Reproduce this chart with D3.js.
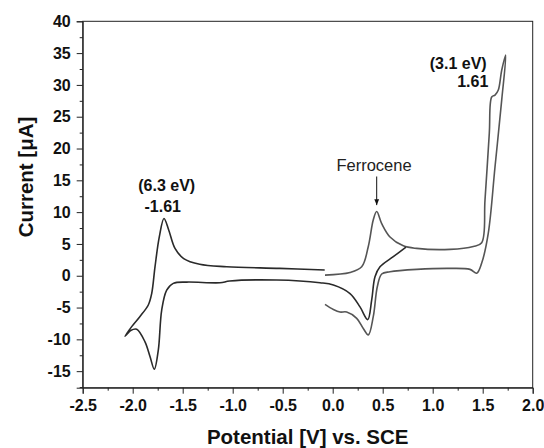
<!doctype html>
<html>
<head>
  <title> CV </title>
  <script src="https://cdn.jsdelivr.net/npm/d3@7"></script>
  <style>
    body { margin: 0; background: #fff; }
    text { font-family: "Liberation Sans", Arial, sans-serif; }
  </style>
</head>
<body>
  <svg width="544" height="448"></svg>
  <script>
  // left scan (dark curve) : [potential V, current uA]
  var darkCurve = [
    [-0.08, 0.9], [-0.53, 1.16], [-1.06, 1.42], [-1.33, 1.8], [-1.49, 2.7],
    [-1.577, 4.3], [-1.64, 7.2], [-1.687, 9.0], [-1.734, 6.1], [-1.777, 1.4],
    [-1.81, -2.8], [-1.844, -4.6], [-1.927, -6.4], [-2.01, -8.0], [-2.077, -9.5],
    [-2.02, -8.6], [-1.96, -8.4], [-1.877, -10.4], [-1.827, -12.7], [-1.784, -14.7],
    [-1.744, -11.7], [-1.71, -5.4], [-1.66, -2.25], [-1.594, -1.2], [-1.46, -1.0],
    [-1.127, -1.1], [-1.03, -0.83], [-0.56, -0.68], [-0.127, -1.1], [0.007, -1.46],
    [0.173, -2.8], [0.273, -4.9], [0.35, -6.9], [0.39, -3.8], [0.423, -0.16],
    [0.473, 1.4], [0.606, 3.0], [0.733, 4.5]
  ];
  // right scan (grey curve)
  var greyCurve = [
    [-0.077, 0.1], [0.173, 0.5], [0.29, 1.4], [0.356, 4.6], [0.406, 8.8],
    [0.44, 10.1], [0.49, 8.2], [0.573, 6.1], [0.706, 4.7], [0.84, 4.3],
    [1.173, 4.15], [1.406, 4.6], [1.49, 5.2], [1.523, 11.9], [1.566, 22.4],
    [1.59, 28.1], [1.623, 28.4], [1.656, 29.2], [1.69, 32.3], [1.73, 34.7],
    [1.69, 27.6], [1.623, 17.1], [1.556, 6.7], [1.49, 2.0], [1.44, 0.4],
    [1.373, 1.0], [1.173, 1.16], [0.84, 1.0], [0.573, 0.63], [0.49, 0.27],
    [0.446, -1.73], [0.406, -6.4], [0.356, -9.3], [0.306, -8.3], [0.24, -6.7],
    [0.14, -5.7], [0.073, -5.7], [0.007, -5.3], [-0.077, -4.5]
  ];
  var xTicks = [-2.5, -2.0, -1.5, -1.0, -0.5, 0.0, 0.5, 1.0, 1.5, 2.0];
  var yTicks = [-15, -10, -5, 0, 5, 10, 15, 20, 25, 30, 35, 40];

  var svg = d3.select("svg"),
      pLeft = 82.7, pRight = 532.7, pTop = 21.3, pBottom = 387.7;

  var x = d3.scaleLinear().domain([-2.5, 2.0]).range([pLeft, pRight]),
      y = d3.scaleLinear().domain([-17.6, 40]).range([pBottom, pTop]);

  var axisColor = "#222";

  // frame
  svg.append("rect")
      .attr("x", pLeft).attr("y", pTop)
      .attr("width", pRight - pLeft).attr("height", pBottom - pTop)
      .attr("fill", "none").attr("stroke", axisColor).attr("stroke-width", 1);

  // minor ticks
  svg.append("g")
      .attr("transform", "translate(0," + pBottom + ")")
      .call(d3.axisBottom(x).tickValues(d3.range(-2.25, 2.0, 0.5)).tickSize(3).tickFormat(""))
      .call(function(g) { g.select(".domain").remove(); });
  svg.append("g")
      .attr("transform", "translate(" + pLeft + ",0)")
      .call(d3.axisLeft(y).tickValues(d3.range(-17.5, 40, 5)).tickSize(3).tickFormat(""))
      .call(function(g) { g.select(".domain").remove(); });

  // major ticks
  var gx = svg.append("g")
      .attr("transform", "translate(0," + pBottom + ")")
      .call(d3.axisBottom(x).tickValues(xTicks).tickSize(6).tickPadding(6).tickFormat(d3.format(".1f")));
  var gy = svg.append("g")
      .attr("transform", "translate(" + pLeft + ",0)")
      .call(d3.axisLeft(y).tickValues(yTicks).tickSize(6).tickPadding(6).tickFormat(d3.format("d")));

  svg.selectAll(".tick line").attr("stroke", axisColor);
  svg.selectAll(".domain").attr("stroke", axisColor);
  svg.selectAll(".tick text")
      .attr("font-family", "Liberation Sans, Arial, sans-serif")
      .attr("font-size", 16).attr("font-weight", "bold").attr("fill", "#111");
  gx.selectAll(".tick text").text(function(d) { return d3.format(".1f")(d).replace("−", "-"); });
  gy.selectAll(".tick text").text(function(d) { return String(d); });

  // axis titles
  svg.append("text")
      .attr("x", (pLeft + pRight) / 2).attr("y", 444)
      .attr("text-anchor", "middle")
      .attr("font-size", 20.5).attr("font-weight", "bold").attr("fill", "#111")
      .text("Potential [V] vs. SCE");
  svg.append("text")
      .attr("transform", "translate(33,177) rotate(-90)")
      .attr("text-anchor", "middle")
      .attr("font-size", 20.5).attr("font-weight", "bold").attr("fill", "#111")
      .text("Current [μA]");

  // curves
  var line = d3.line()
      .x(function(d) { return x(d[0]); })
      .y(function(d) { return y(d[1]); })
      .curve(d3.curveCatmullRom.alpha(0.5));

  svg.append("path").datum(greyCurve)
      .attr("d", line).attr("fill", "none")
      .attr("stroke", "#555").attr("stroke-width", 1.6);
  svg.append("path").datum(darkCurve)
      .attr("d", line).attr("fill", "none")
      .attr("stroke", "#2a2a2a").attr("stroke-width", 1.6);

  // annotations
  svg.append("text").attr("x", x(-1.66)).attr("y", y(13.3))
      .attr("text-anchor", "middle").attr("font-size", 16).attr("font-weight", "bold").attr("fill", "#111")
      .text("(6.3 eV)");
  svg.append("text").attr("x", x(-1.7)).attr("y", y(10.0))
      .attr("text-anchor", "middle").attr("font-size", 16).attr("font-weight", "bold").attr("fill", "#111")
      .text("-1.61");
  svg.append("text").attr("x", x(1.54)).attr("y", y(32.5))
      .attr("text-anchor", "end").attr("font-size", 16).attr("font-weight", "bold").attr("fill", "#111")
      .text("(3.1 eV)");
  svg.append("text").attr("x", x(1.556)).attr("y", y(29.7))
      .attr("text-anchor", "end").attr("font-size", 16).attr("font-weight", "bold").attr("fill", "#111")
      .text("1.61");
  svg.append("text").attr("x", x(0.413)).attr("y", y(16.5))
      .attr("text-anchor", "middle").attr("font-size", 16.5).attr("fill", "#222")
      .text("Ferrocene");

  // arrow to ferrocene peak
  svg.append("defs").append("marker")
      .attr("id", "head").attr("viewBox", "0 0 10 10")
      .attr("refX", 10).attr("refY", 5)
      .attr("markerWidth", 6).attr("markerHeight", 6)
      .attr("orient", "auto")
    .append("path").attr("d", "M0,1L10,5L0,9Z").attr("fill", "#111");
  svg.append("line")
      .attr("x1", x(0.44)).attr("x2", x(0.44))
      .attr("y1", y(15.6)).attr("y2", y(11.1))
      .attr("stroke", "#111").attr("stroke-width", 1)
      .attr("marker-end", "url(#head)");
  </script>
</body>
</html>
